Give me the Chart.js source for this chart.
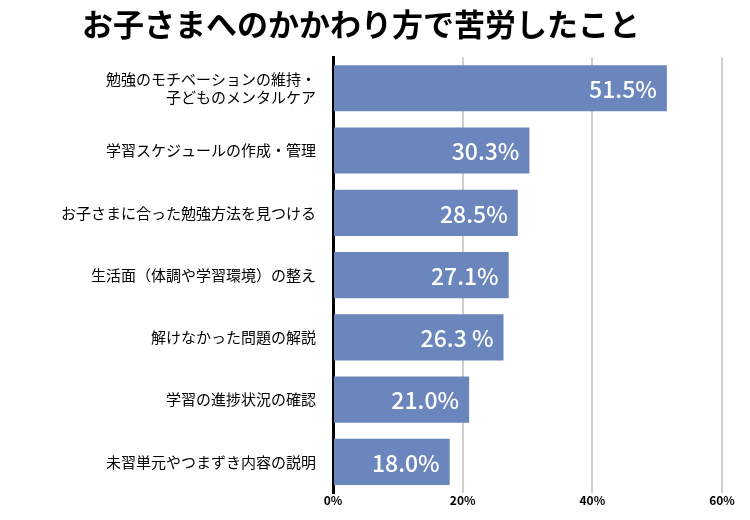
<!DOCTYPE html>
<html><head><meta charset="utf-8">
<script src="https://cdn.jsdelivr.net/npm/chart.js@4/dist/chart.umd.min.js"></script>
<style>html,body{margin:0;padding:0;background:#fff}#w{width:750px;height:520px}</style>
</head><body><div id="w"><canvas id="c"></canvas></div>
<script>
const categories = [["勉強のモチベーションの維持・","子どものメンタルケア"],"学習スケジュールの作成・管理","お子さまに合った勉強方法を見つける","生活面（体調や学習環境）の整え","解けなかった問題の解説","学習の進捗状況の確認","未習単元やつまずき内容の説明"];
const values = [51.5,30.3,28.5,27.1,26.3,21.0,18.0];
const valueLabels = ["51.5%","30.3%","28.5%","27.1%","26.3 %","21.0%","18.0%"];
const tickValues = [0,20,40,60];
const F = "'Noto Sans CJK JP', sans-serif";
const labelPlugin = {id:'lbl',afterDatasetsDraw(ch){const ctx=ch.ctx;const m=ch.getDatasetMeta(0);ctx.save();ctx.fillStyle='#fff';ctx.font='500 23px '+F;ctx.textAlign='right';ctx.textBaseline='middle';m.data.forEach((b,i)=>{ctx.fillText(valueLabels[i],b.x-10,b.y+1);});ctx.restore();}};
new Chart(document.getElementById('c'),{type:'bar',
data:{labels:categories,datasets:[{data:values,backgroundColor:'#6A86BD',barPercentage:0.74,categoryPercentage:1}]},
options:{indexAxis:'y',responsive:true,maintainAspectRatio:false,animation:false,
layout:{padding:{left:0,right:28,top:0,bottom:2}},
plugins:{legend:{display:false},tooltip:{enabled:false},
title:{display:true,text:'お子さまへのかかわり方で苦労したこと',font:{family:F,size:31,weight:'bold'},color:'#000',padding:{top:6,bottom:14}}},
scales:{x:{min:0,max:60,afterBuildTicks(s){s.ticks=tickValues.map(v=>({value:v}));},
ticks:{callback:v=>v+'%',font:{family:F,size:12,weight:'bold'},color:'#000',padding:0},
grid:{color:'#cfcfcf',lineWidth:2,drawTicks:false},border:{display:false}},
y:{afterFit(s){s.width=333;},ticks:{font:{family:F,size:15},color:'#000',padding:9},
grid:{display:false},border:{color:'#000',width:3}}}},
plugins:[labelPlugin]});
</script></body></html>
